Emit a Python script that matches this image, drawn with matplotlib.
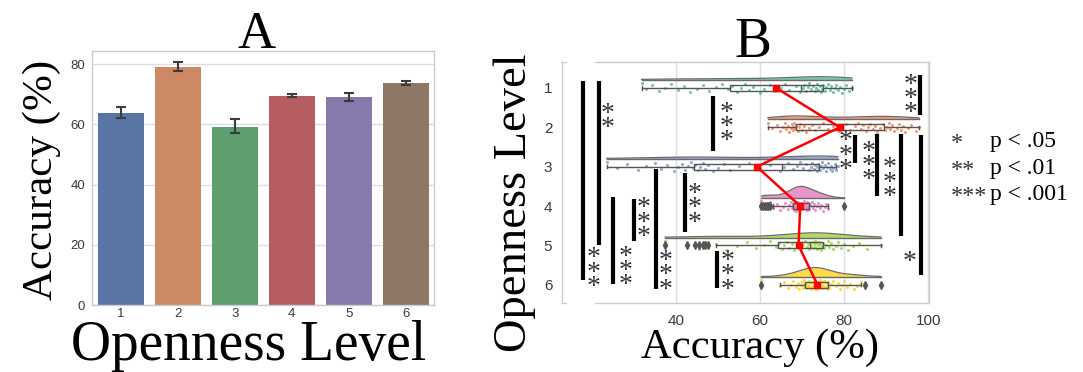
import numpy as np
import matplotlib
matplotlib.use('Agg')
import matplotlib.pyplot as plt
import matplotlib.transforms as mtransforms
import seaborn as sns

# ---------------- data ----------------
levels = [1, 2, 3, 4, 5, 6]
level_labels = ['1', '2', '3', '4', '5', '6']
accuracy_mean = [63.9, 79.0, 59.3, 69.6, 69.2, 73.7]
ci_low = [62.0, 77.7, 57.3, 69.1, 67.9, 73.1]
ci_high = [65.8, 80.7, 61.9, 70.0, 70.6, 74.3]

level1_points = [31.9, 33, 34.5, 36, 37.5, 39, 40.5, 42, 43.5, 45, 46.5, 48, 49.5, 51, 52.5,
                 53.5, 54.5, 55.5, 56.5, 57.5, 58.5, 60, 61, 62.5, 63.5, 65, 66, 67, 68.5, 69.5,
                 70.2, 70.6, 71, 71.4, 71.8, 72.2, 72.6, 73, 73.3, 73.6, 73.9, 74.2, 74.5, 74.8, 75,
                 75.4, 75.8, 76.2, 76.6, 77, 77.4, 77.8, 78.2, 78.6, 79, 79.5, 80, 80.5, 81.2, 81.9]
level2_points = [61.9, 63, 64, 64.8, 65.4, 65.9, 66.3, 66.7, 67, 67.3, 67.6, 67.8, 68, 68.2, 68.4,
                 68.7, 69, 69.3, 69.6, 70, 70.5, 71, 71.6, 72.3, 73, 74, 75, 76.3, 77.5, 78.7,
                 79.5, 80.5, 81.5, 82.5, 83.3, 84, 84.6, 85.2, 85.8, 86.3, 86.8, 87.3, 87.8, 88.5, 89.3,
                 89.8, 90.2, 90.6, 91, 91.5, 92, 92.5, 93, 93.5, 94, 94.6, 95.2, 96, 97, 97.9]
level3_points = [23.6, 26, 28.5, 31, 33, 35, 36.5, 38, 39.5, 40.5, 41.5, 42.3, 43, 43.7, 44.2,
                 44.7, 45.2, 45.8, 46.4, 47, 47.8, 48.8, 50, 51.5, 53, 55, 57.5, 60, 62.5, 64.8,
                 65.8, 66.8, 67.8, 68.8, 69.6, 70.3, 71, 71.6, 72.1, 72.5, 72.9, 73.2, 73.5, 73.7, 73.9,
                 74.2, 74.5, 74.8, 75.1, 75.4, 75.7, 76, 76.3, 76.6, 76.9, 77.2, 77.5, 77.8, 78.1, 78.5]
level4_points = [60.4, 60.8, 61.2, 61.6, 62.0, 62.4, 63.1, 64, 64.8, 65.5, 66.1, 66.6, 67, 67.4, 67.7,
                 68, 68.1, 68.2, 68.3, 68.4, 68.5, 68.6, 68.7, 68.8, 68.9, 69, 69.1, 69.2, 69.3, 69.4,
                 69.6, 69.8, 70, 70.2, 70.4, 70.6, 70.8, 70.9, 71, 71.1, 71.2, 71.3, 71.4, 71.5, 71.6,
                 71.8, 72, 72.3, 72.6, 72.9, 73.2, 73.5, 73.8, 74.2, 74.6, 75, 75.4, 75.8, 76.2, 80.1]
level5_points = [37.5, 42.6, 44.6, 45.5, 46.5, 47.0, 47.7, 49.7, 52, 54.5, 57, 59, 61, 62.5, 63.8,
                 64.6, 65.2, 65.8, 66.4, 67, 67.6, 68.2, 68.8, 69.3, 69.8, 70.3, 70.8, 71.2, 71.5, 71.8,
                 72.2, 72.4, 72.6, 72.8, 73, 73.2, 73.4, 73.6, 73.8, 74, 74.2, 74.4, 74.6, 74.8, 74.9,
                 75.3, 75.7, 76.1, 76.5, 77, 77.5, 78, 78.6, 79.2, 80, 81, 82.2, 83.6, 85.5, 88.8]
level6_points = [60.4, 64.9, 65.8, 66.6, 67.3, 67.9, 68.5, 69.0, 69.4, 69.8, 70.1, 70.3, 70.5, 70.6, 70.7,
                 71, 71.2, 71.4, 71.6, 71.8, 72, 72.2, 72.4, 72.6, 72.8, 72.9, 73, 73.1, 73.2, 73.3,
                 73.5, 73.7, 73.9, 74.1, 74.3, 74.5, 74.7, 74.9, 75.1, 75.3, 75.5, 75.7, 75.9, 76, 76.1,
                 76.5, 77.0, 77.5, 78.0, 78.5, 79, 79.5, 80.1, 80.8, 81.5, 82.3, 83.2, 84.1, 85.1, 88.8]
level_points = [level1_points, level2_points, level3_points,
                level4_points, level5_points, level6_points]

box_q1 = [53.0, 68.5, 44.4, 67.9, 64.3, 70.8]
box_median = [69.9, 79.0, 65.3, 69.5, 72.0, 73.4]
box_q3 = [75.1, 89.6, 74.0, 71.7, 75.0, 76.2]
whisker_low = [31.9, 61.9, 23.6, 63.1, 49.7, 64.9]
whisker_high = [81.9, 97.9, 78.1, 76.2, 88.8, 84.1]
outliers = [[], [], [], [60.4, 60.8, 61.2, 61.6, 62.0, 62.4, 80.1],
            [37.5, 42.6, 44.6, 45.5, 46.5, 47.0, 47.7], [60.4, 85.1, 88.8]]

# significance brackets: x, level from, level to, label, label x, first star level
sig_x = [17.96, 21.7, 25.2, 30.0, 35.3, 42.2, 48.9, 49.9, 98.05, 82.5, 87.9, 93.55, 98.3]
sig_from = [0.83, 0.83, 3.77, 3.82, 3.06, 3.15, 1.20, 5.15, 0.68, 2.19, 2.16, 2.16, 2.19]
sig_to = [5.87, 4.98, 5.97, 4.88, 6.10, 4.67, 2.61, 6.08, 1.68, 2.91, 3.74, 4.77, 5.75]
sig_label = ['***', '**', '***', '***', '***', '***', '***', '***', '***', '***', '***', '***', '*']
sig_label_x = [20.5, 23.9, 28.2, 32.5, 37.5, 44.6, 52.1, 52.3, 95.9, 80.4, 85.8, 90.9, 95.7]
sig_label_level = [5.28, 1.55, 5.24, 4.01, 5.35, 3.65, 1.58, 5.35, 0.87, 2.31, 2.57, 3.0, 5.24]

legend_stars = ['*', '**', '***']
legend_text = ['p < .05', 'p < .01', 'p < .001']

# ---------------- style ----------------
W, H = 1083, 372
fig = plt.figure(figsize=(W / 100, H / 100), dpi=100)
SERIF = 'Liberation Serif'
SANS = 'Liberation Sans'
TICK_C = '#3a3a3a'
FRAME_C = '#cccccc'
GRID_C = '#dedede'
STAR_C = '#333333'


def fx(x):
    return x / W


def fy(y):
    return 1 - y / H


# ---------------- panel A ----------------
axA = fig.add_axes([fx(92.3), fy(305), fx(342), 254.3 / H])
deep = sns.color_palette('deep', 6)
bar_colors = [sns.desaturate(c, 0.75) for c in deep]
xpos = np.arange(len(levels))
axA.bar(xpos, accuracy_mean, width=0.8, color=bar_colors, zorder=2)
mean_arr = np.array(accuracy_mean)
yerr = [mean_arr - np.array(ci_low), np.array(ci_high) - mean_arr]
axA.errorbar(xpos, accuracy_mean, yerr=yerr, fmt='none', ecolor='#3c3c3c',
             elinewidth=1.5, capsize=3.5, capthick=1.5, zorder=3)
axA.set_xlim(-0.5, 5.5)
axA.set_ylim(0, 84.5)
axA.set_yticks([0, 20, 40, 60, 80])
axA.set_xticks(xpos)
axA.set_xticklabels(level_labels)
axA.grid(axis='y', color=GRID_C, lw=1, zorder=0)
axA.set_axisbelow(True)
for s in axA.spines.values():
    s.set_color(FRAME_C)
    s.set_linewidth(1)
axA.tick_params(length=0, labelsize=9.5, labelcolor=TICK_C, pad=5)
axA.tick_params(axis='x', pad=2)
for lab in axA.get_xticklabels() + axA.get_yticklabels():
    lab.set_fontfamily(SANS)

fig.text(fx(256.7), fy(48.3), 'A', fontsize=38, family=SERIF, ha='center', va='baseline')
fig.text(fx(41.5), fy(180), 'Accuracy (%)', fontsize=31, family=SERIF,
         rotation=90, ha='center', va='center')
fig.text(fx(249), fy(360), 'Openness Level', fontsize=40, family=SERIF,
         ha='center', va='baseline')

# ---------------- panel B ----------------
axB = fig.add_axes([fx(562), fy(303.3), fx(367), 241.3 / H])
axB.set_xlim(13.0, 100.2)
axB.set_ylim(6.47, 0.34)
axB.set_xticks([40, 60, 80, 100])
axB.set_yticks(levels)
axB.set_yticklabels(level_labels)
axB.grid(axis='x', color=GRID_C, lw=1, zorder=0)
axB.grid(axis='y', visible=False)
axB.set_axisbelow(True)
axB.tick_params(length=0, labelsize=11, labelcolor=TICK_C)
axB.tick_params(axis='x', pad=8)
axB.tick_params(axis='y', pad=7)
for lab in axB.get_xticklabels() + axB.get_yticklabels():
    lab.set_fontfamily(SANS)
axB.spines['top'].set_visible(False)
axB.spines['bottom'].set_visible(False)
for side in ['left', 'right']:
    axB.spines[side].set_color(FRAME_C)
    axB.spines[side].set_linewidth(1)
for yy in [0, 1]:
    axB.plot([0.09, 1], [yy, yy], transform=axB.transAxes, color=FRAME_C, lw=1, clip_on=False)
    axB.plot([0, 0.012], [yy, yy], transform=axB.transAxes, color=FRAME_C, lw=1, clip_on=False)

set2 = sns.color_palette('Set2', 6)
EDGE = '#555555'


def kde(vals, grid):
    v = np.asarray(vals, float)
    n = len(v)
    bw = v.std(ddof=1) * n ** (-0.2)
    z = (grid[:, None] - v[None, :]) / bw
    return np.exp(-0.5 * z ** 2).sum(1) / (n * bw * np.sqrt(2 * np.pi))


grids, dens = [], []
for pts in level_points:
    g = np.linspace(min(pts), max(pts), 300)
    grids.append(g)
    dens.append(kde(pts, g))
cloud_scale = 0.30 / dens[3].max()
cloud_offset = 0.2

for i, lvl in enumerate(levels):
    pts = np.asarray(level_points[i])
    col = set2[i]
    # cloud
    base = lvl - cloud_offset
    top = base - dens[i] * cloud_scale
    axB.fill_between(grids[i], base, top, color=col, alpha=0.9, lw=0, zorder=2)
    axB.plot(grids[i], top, color='#6a6a6a', lw=0.9, zorder=2.5)
    axB.plot([grids[i][0], grids[i][-1]], [base, base], color='#6a6a6a', lw=1.0, zorder=2.5)
    # rain
    jit = ((np.arange(len(pts)) * 0.6180339887) % 1 - 0.5) * 0.24
    axB.scatter(pts, lvl + jit, s=5, color=col, alpha=0.9, lw=0, zorder=3)
    # box
    st = [dict(q1=box_q1[i], med=box_median[i], q3=box_q3[i],
               whislo=whisker_low[i], whishi=whisker_high[i], fliers=outliers[i])]
    kw = dict(positions=[lvl], widths=0.15, patch_artist=True, manage_ticks=False,
              boxprops=dict(facecolor='none', edgecolor=EDGE, lw=1),
              medianprops=dict(color=EDGE, lw=1),
              whiskerprops=dict(color=EDGE, lw=1),
              capprops=dict(color=EDGE, lw=1),
              flierprops=dict(marker='d', markerfacecolor=EDGE, markeredgecolor=EDGE,
                              markersize=4),
              capwidths=0.08, zorder=4)
    try:
        axB.bxp(st, orientation='horizontal', **kw)
    except TypeError:
        axB.bxp(st, vert=False, **kw)

axB.plot(accuracy_mean, levels, color='#ff0000', lw=1.8, marker='s', ms=5,
         markeredgecolor='#ff0000', zorder=10)

# significance bars (stacked asterisks drawn as one multi-line text each,
# anchored at the baseline of the last line)
STAR_FS = 20
STAR_LS = 0.44
STAR_STEP = 0.3
star_tr = mtransforms.offset_copy(axB.transData, fig=fig, x=0, y=-0.5 * STAR_FS, units='points')
for k in range(len(sig_x)):
    axB.plot([sig_x[k], sig_x[k]], [sig_from[k], sig_to[k]], color='black', lw=3,
             solid_capstyle='butt', zorder=6, clip_on=False)
    n_star = len(sig_label[k])
    last_level = sig_label_level[k] + STAR_STEP * (n_star - 1)
    axB.text(sig_label_x[k], last_level, '\n'.join(sig_label[k]), transform=star_tr,
             fontsize=STAR_FS, family=SERIF, ha='center', va='baseline',
             multialignment='center', linespacing=STAR_LS, color=STAR_C, zorder=7)

fig.text(fx(752.5), fy(56.7), 'B', fontsize=40, family=SERIF, ha='center', va='baseline')
fig.text(fx(515), fy(202.5), 'Openness Level', fontsize=33.5, family=SERIF,
         rotation=90, ha='center', va='center')
fig.text(fx(760), fy(358.3), 'Accuracy (%)', fontsize=30.7, family=SERIF,
         ha='center', va='baseline')

# legend of significance
legend_baselines = [146.7, 174.0, 200.0]
for k in range(3):
    fig.text(fx(951), fy(legend_baselines[k] + 2), legend_stars[k], fontsize=17.5,
             family=SERIF, ha='left', va='baseline', color=STAR_C)
    fig.text(fx(990), fy(legend_baselines[k]), legend_text[k], fontsize=17,
             family=SERIF, ha='left', va='baseline')

fig.savefig('out.png', dpi=100)
